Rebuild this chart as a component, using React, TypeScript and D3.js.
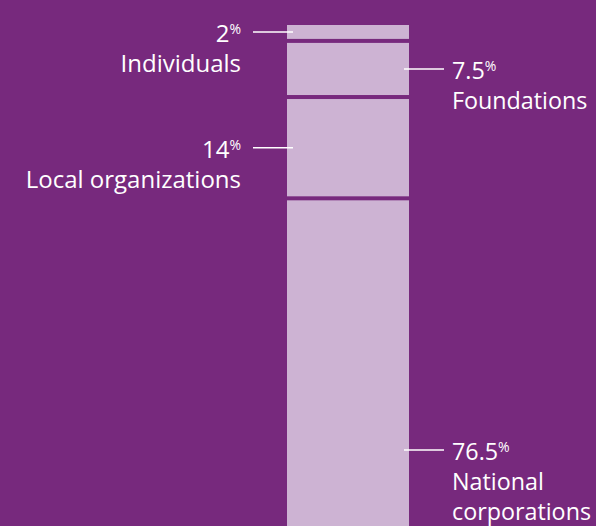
import React from "react";
import * as d3 from "d3";

const categories = ["Individuals", "Foundations", "Local organizations", "National\ncorporations"];
const values = [2, 7.5, 14, 76.5];
const valueLabels = ["2", "7.5", "14", "76.5"];

const W = 596;
const H = 526;
const BG = "#77297D";
const BAR = "#CDB3D3";
const FONT = "'Open Sans', sans-serif";

export default function App() {
  const gap = 4;
  const y = d3.scaleLinear().domain([0, 100]).range([25, 720]);
  const cum = d3.cumsum(values);
  const x = d3.scaleBand().domain(["total"]).range([287, 409]).padding(0);
  const bx = x("total") as number;
  const bw = x.bandwidth();

  const segs = values.map((v, i) => {
    const start = i === 0 ? 0 : cum[i - 1];
    const y0 = y(start) + i * gap;
    const y1 = y(cum[i]) + i * gap;
    const mid = Math.min((y0 + y1) / 2, H - 76);
    return { v, i, y0, y1, mid, left: i % 2 === 0 };
  });

  return (
    <svg
      width={W}
      height={H}
      style={{ position: "absolute", left: 0, top: 0, display: "block" }}
    >
      <rect x={0} y={0} width={W} height={H} fill={BG} />
      {segs.map((s) => (
        <rect key={"r" + s.i} x={bx} y={s.y0} width={bw} height={s.y1 - s.y0} fill={BAR} />
      ))}
      {segs.map((s) => {
        const lx0 = s.left ? bx - 34 : bx + bw - 5;
        const lx1 = s.left ? bx + 6 : bx + bw + 35;
        const tx = s.left ? bx - 46 : bx + bw + 43;
        const anchor = s.left ? "end" : "start";
        const lines = categories[s.i].split("\n");
        const fs = s.left ? 24 : 23.3;
        return (
          <g key={"l" + s.i} fontFamily={FONT} fill="#ffffff">
            <line x1={lx0} x2={lx1} y1={s.mid} y2={s.mid} stroke="#ffffff" strokeWidth={1.5} />
            <text x={tx} y={s.mid + 10} textAnchor={anchor} fontSize={fs}>
              <tspan>{valueLabels[s.i]}</tspan>
              <tspan fontSize={14} dy={-8}>%</tspan>
              {lines.map((ln, j) => (
                <tspan key={j} x={tx} dy={j === 0 ? 8 + 30 : 29.5}>
                  {ln}
                </tspan>
              ))}
            </text>
          </g>
        );
      })}
    </svg>
  );
}
